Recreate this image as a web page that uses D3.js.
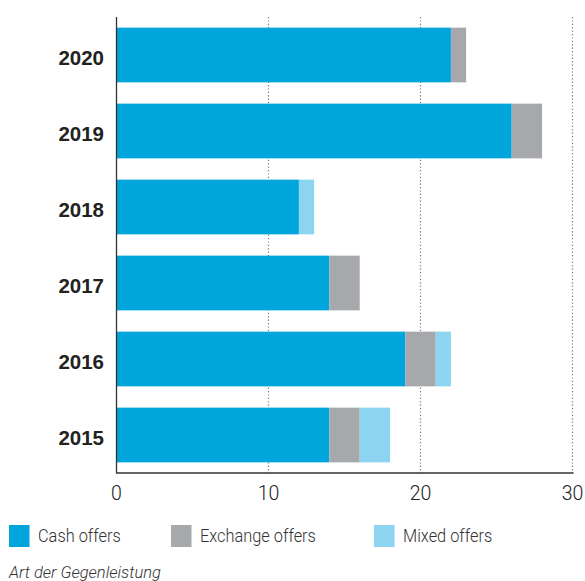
<!DOCTYPE html>
<html><head><meta charset="utf-8">
<script src="https://cdn.jsdelivr.net/npm/d3@7"></script>
<style>body{margin:0;background:#fff;}svg{display:block;}</style>
</head><body>
<script>
const years = ["2020","2019","2018","2017","2016","2015"];
const seriesNames = ["Cash offers","Exchange offers","Mixed offers"];
const cashOffers = [22,26,12,14,19,14];
const exchangeOffers = [1,2,0,2,2,2];
const mixedOffers = [0,0,1,0,1,2];
const xTicks = [0,10,20,30];
const colors = ["#00a6db","#a7a8ab","#8dd4f0"];
const caption = "Art der Gegenleistung";

const W=585,H=581;
const svg=d3.select("body").append("svg").attr("width",W).attr("height",H);
const m={left:116.5,right:572.5,top:17,bottom:473};
const x=d3.scaleLinear().domain([0,30]).range([m.left,m.right]);
const y=d3.scaleBand().domain(years).range([m.top,m.bottom]).paddingInner(0.28).paddingOuter(0.14);

const table=years.map((yr,i)=>({year:yr,"Cash offers":cashOffers[i],"Exchange offers":exchangeOffers[i],"Mixed offers":mixedOffers[i]}));
const stacked=d3.stack().keys(seriesNames)(table);

// grid
svg.append("g").selectAll("line").data(xTicks.filter(d=>d>0)).join("line")
 .attr("x1",d=>x(d)).attr("x2",d=>x(d)).attr("y1",m.top).attr("y2",m.bottom)
 .attr("stroke","#777").attr("stroke-width",1.2).attr("stroke-dasharray","1.2,2.2");

// bars
svg.append("g").selectAll("g").data(stacked).join("g").attr("fill",(d,i)=>colors[i])
 .selectAll("rect").data(d=>d).join("rect")
 .attr("x",d=>x(d[0])).attr("width",d=>x(d[1])-x(d[0]))
 .attr("y",d=>y(d.data.year)).attr("height",y.bandwidth());

// axes lines
svg.append("line").attr("x1",m.left).attr("x2",m.left).attr("y1",m.top).attr("y2",m.bottom+0.5).attr("stroke","#333").attr("stroke-width",1.3);
svg.append("line").attr("x1",m.left).attr("x2",m.right+1).attr("y1",m.bottom).attr("y2",m.bottom).attr("stroke","#333").attr("stroke-width",1.3);

// x tick labels
svg.append("g").selectAll("text").data(xTicks).join("text")
 .attr("x",d=>x(d)).attr("y",499.5).attr("text-anchor","middle")
 .attr("font-family","Roboto").attr("font-weight",300).attr("font-size",19.5).attr("fill","#222")
 .text(d=>d);

// y labels
svg.append("g").selectAll("text").data(years).join("text")
 .attr("x",104).attr("y",d=>y(d)+y.bandwidth()/2).attr("dy","0.5em").attr("text-anchor","end")
 .attr("font-family","Liberation Sans, Arial").attr("font-weight","bold").attr("font-size",20.5).attr("fill","#222")
 .text(d=>d);

// legend
const lx=[9,171,374];
const lg=svg.append("g").selectAll("g").data(seriesNames).join("g").attr("transform",(d,i)=>`translate(${lx[i]},525)`);
lg.append("rect").attr("width",20.5).attr("height",22).attr("fill",(d,i)=>colors[i]);
lg.append("text").attr("transform","translate(29,17) scale(0.885,1)").attr("font-family","Roboto").attr("font-weight",300).attr("font-size",18.5).attr("fill","#333").text(d=>d);

svg.append("text").attr("x",9).attr("y",577.5).attr("font-family","Roboto").attr("font-weight",300).attr("font-style","italic").attr("font-size",16.5).attr("fill","#333").text(caption);
</script>
</body></html>
